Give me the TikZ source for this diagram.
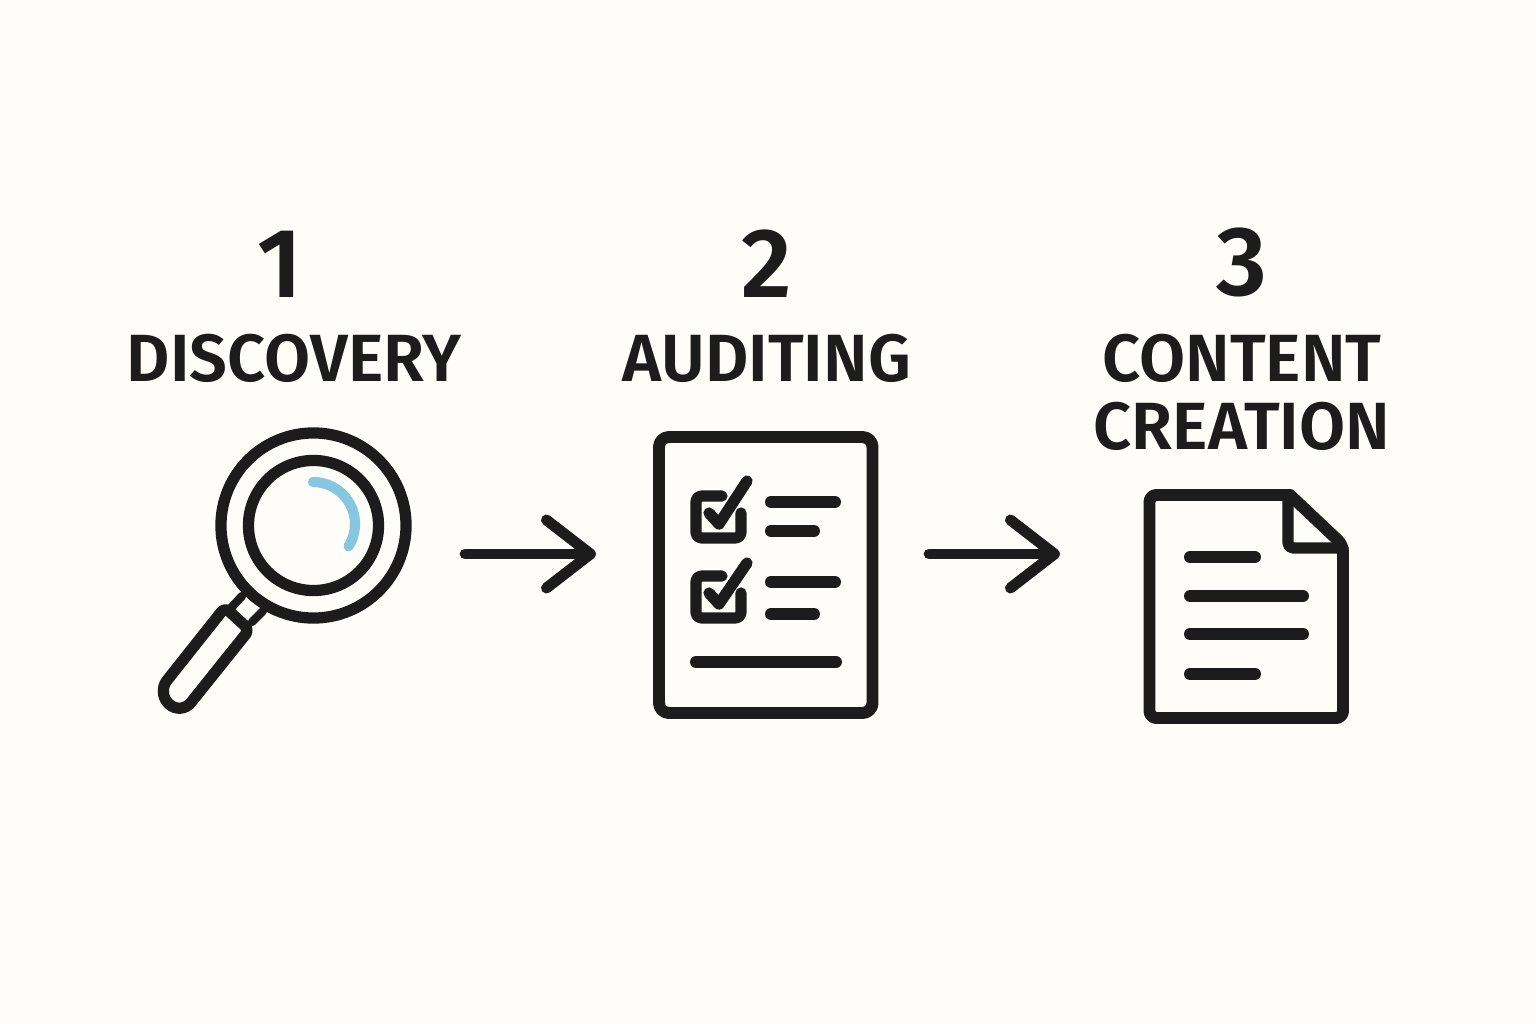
\documentclass[tikz,border=0pt]{standalone}
\usepackage{fontspec}
\setmainfont{Fira Sans}[BoldFont=* SemiBold]
\usetikzlibrary{arrows.meta,positioning}
\definecolor{paper}{HTML}{FEFDF9}
\definecolor{ink}{HTML}{1C1C1C}
\definecolor{glint}{HTML}{85C7DE}

\begin{document}
\begin{tikzpicture}[
  x=0.01cm, y=-0.01cm,
  icon/.style={draw=ink, line width=3.2pt, line cap=round, line join=round},
  bar/.style={icon, line width=3.4pt},
  hold/.style={minimum width=#1, minimum height=2cm, inner sep=0pt, outer sep=0pt},
  arrow/.style={-{Straight Barb[length=4.4mm,width=6.8mm,round]}, draw=ink, line width=3.1pt, line cap=round},
  lbl/.style={font=\fontsize{19}{19.3}\selectfont\bfseries, text=ink, inner sep=0pt, align=center},
  num/.style={font=\fontsize{28}{30}\selectfont\bfseries, text=ink, inner sep=0pt, above=0.35cm of #1}
]

\fill[paper] (0,0) rectangle (1536,1024);

% Labels
\node[lbl] (lab1) at (294,358) {DISCOVERY};
\node[lbl] (lab2) at (767,358) {AUDITING};
\node[lbl] (lab3) at (1242,392) {CONTENT\\CREATION};

% Step numbers
\node[num=lab1, xshift=-4pt] (num1) {1};
\node[num=lab2] (num2) {2};
\node[num=lab3] (num3) {3};

% Icon holders for the arrows
\node[hold=2.61cm] (glass) at (280.5,554) {};
\node[hold=2.25cm] (sheet) at (765.5,554) {};
\node[hold=2.05cm] (page) at (1246.5,554) {};

% Arrows
\draw[arrow, shorten <=0.54cm, shorten >=0.57cm] (glass) -- (sheet);
\draw[arrow, shorten <=0.51cm, shorten >=0.84cm] (sheet) -- (page);

% Magnifier
\draw[icon] (313.5,525.5) circle [radius=0.925cm];
\draw[icon] (313.5,525.5) circle [radius=0.65cm];
\draw[draw=glint, line width=2.9pt, line cap=round] (313,482) arc [start angle=90, end angle=-32, radius=0.42cm];
\draw[icon, line width=2.4pt] (242,596) -- (231,608);
\draw[icon, line width=2.4pt] (263,611) -- (252,622);
\draw[icon, rounded corners=0.06cm] (237,618.5) -- (225,607.3) [rounded corners=0.16cm] -- (157,693) -- (181,715) [rounded corners=0.06cm] -- (249.3,629.7) -- cycle;

% Checklist
\draw[icon, line width=3.4pt, rounded corners=0.1cm] (659,437) rectangle (872.5,713);
\draw[icon, rounded corners=0.06cm] (722,496) -- (696,496) -- (696,538) -- (741,538) -- (741,513);
\draw[icon] (709,513) -- (719,524) -- (747,481);
\draw[bar] (771,502) -- (835,502);
\draw[bar] (771,531) -- (814,531);
\draw[icon, rounded corners=0.06cm] (722,576) -- (696,576) -- (696,618) -- (741,618) -- (741,593);
\draw[icon] (709,593) -- (719,604) -- (747,563);
\draw[bar] (771,582) -- (835,582);
\draw[bar] (771,614) -- (814,614);
\draw[bar] (696,662) -- (836,662);

% Document
\draw[icon, line width=3.4pt, rounded corners=0.07cm] (1290,495) -- (1149.5,495) -- (1149.5,718) -- (1343,718) -- (1343,545) -- (1290,495);
\draw[icon, rounded corners=0.05cm] (1288,496) -- (1288,548) -- (1343,548);
\draw[bar] (1190,557) -- (1255,557);
\draw[bar] (1190,596) -- (1303,596);
\draw[bar] (1190,634) -- (1303,634);
\draw[bar] (1190,674) -- (1255,674);

\end{tikzpicture}
\end{document}
